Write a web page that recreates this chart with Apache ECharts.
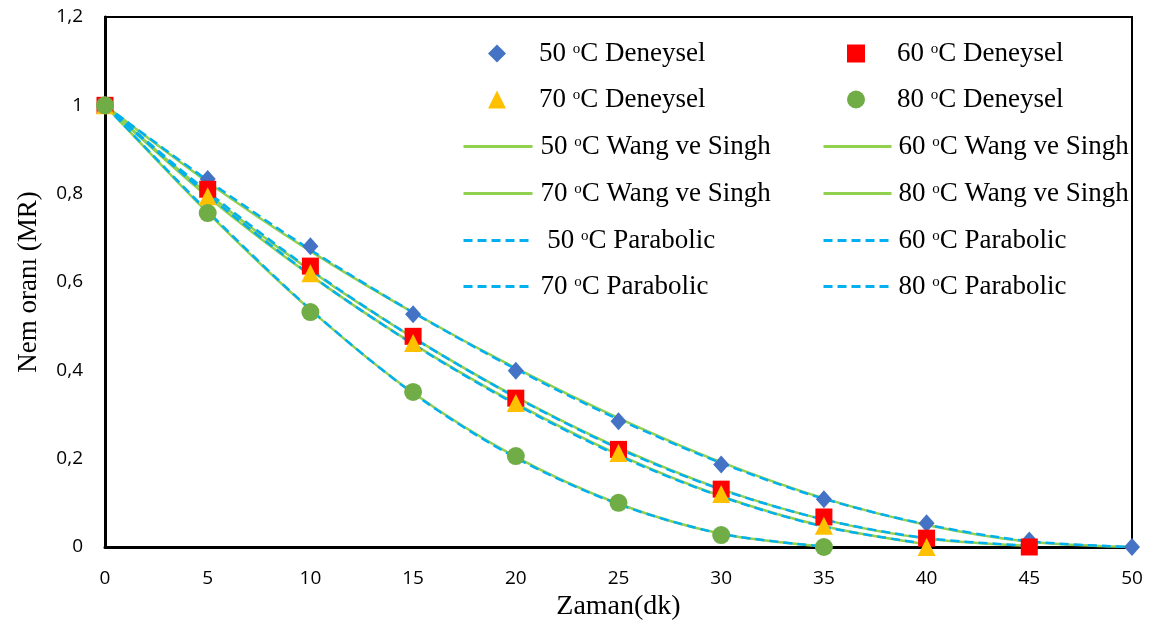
<!DOCTYPE html>
<html>
<head>
<meta charset="utf-8">
<script src="https://cdn.jsdelivr.net/npm/echarts@6/dist/echarts.min.js"></script>
<style>
html,body{margin:0;padding:0;background:#fff;}
#c{width:1158px;height:626px;}
</style>
</head>
<body>
<div id="c"></div>
<script>
// ---- data ----
const times = [0, 5, 10, 15, 20, 25, 30, 35, 40, 45, 50];
const yTickLabels = ['0', '0,2', '0,4', '0,6', '0,8', '1', '1,2'];

const exp50 = [1, 0.833, 0.681, 0.527, 0.399, 0.285, 0.187, 0.108, 0.054, 0.015, 0];
const exp60 = [1, 0.810, 0.636, 0.477, 0.337, 0.221, 0.131, 0.068, 0.020, 0];
const exp70 = [1, 0.794, 0.620, 0.462, 0.326, 0.213, 0.120, 0.048, 0];
const exp80 = [1, 0.756, 0.532, 0.351, 0.206, 0.100, 0.027, 0];

const wang50 = [1, 0.826, 0.670, 0.531, 0.405, 0.292, 0.192, 0.110, 0.050, 0.012, 0];
const wang60 = [1, 0.800, 0.626, 0.474, 0.340, 0.225, 0.131, 0.062, 0.019, 0.002];
const wang70 = [1, 0.793, 0.615, 0.460, 0.325, 0.209, 0.115, 0.047, 0.006];
const wang80 = [1, 0.757, 0.537, 0.349, 0.204, 0.098, 0.030, 0.001];

const para50 = [1, 0.830, 0.673, 0.531, 0.403, 0.289, 0.190, 0.109, 0.051, 0.013, 0];
const para60 = [1, 0.804, 0.628, 0.474, 0.339, 0.223, 0.130, 0.062, 0.020, 0.003];
const para70 = [1, 0.797, 0.616, 0.459, 0.323, 0.207, 0.114, 0.046, 0.007];
const para80 = [1, 0.760, 0.538, 0.348, 0.202, 0.097, 0.030, 0.001];

const names = {
  e50: '50 °C Deneysel', e60: '60 °C Deneysel', e70: '70 °C Deneysel', e80: '80 °C Deneysel',
  w50: '50 °C Wang ve Singh', w60: '60 °C Wang ve Singh', w70: '70 °C Wang ve Singh', w80: '80 °C Wang ve Singh',
  p50: ' 50 °C Parabolic', p60: '60 °C Parabolic', p70: '70 °C Parabolic', p80: '80 °C Parabolic'
};

// ---- build ----
function pairs(vals) { return vals.map((v, i) => [times[i], v]); }

const GREEN = '#92D050', BLUE = '#00B0F0';
const C50 = '#4472C4', C60 = '#FF0000', C70 = '#FFC000', C80 = '#70AD47';

function scatter(name, vals, symbol, size, color) {
  return { name, type: 'scatter', data: pairs(vals), symbol, symbolSize: size,
    itemStyle: { color, opacity: 1 }, z: 5, animation: false };
}
function line(name, vals, color, dashed, z) {
  return { name, type: 'line', data: pairs(vals), smooth: 0.3, symbol: 'none', showSymbol: false,
    lineStyle: { color, width: 2.5, type: dashed ? [9, 5] : 'solid' }, itemStyle: { color },
    z, animation: false };
}

const series = [
  line(names.w50, wang50, GREEN, false, 2),
  line(names.w60, wang60, GREEN, false, 2),
  line(names.w70, wang70, GREEN, false, 2),
  line(names.w80, wang80, GREEN, false, 2),
  line(names.p50, para50, BLUE, true, 3),
  line(names.p60, para60, BLUE, true, 3),
  line(names.p70, para70, BLUE, true, 3),
  line(names.p80, para80, BLUE, true, 3),
  scatter(names.e50, exp50, 'diamond', [16, 18], C50),
  scatter(names.e60, exp60, 'rect', 17, C60),
  scatter(names.e70, exp70, 'triangle', 18, C70),
  scatter(names.e80, exp80, 'circle', 18, C80)
];

function legendFmt(name) {
  const m = name.match(/^(\s*\d+) °C (.*)$/);
  if (!m) return name;
  return '{a|' + m[1] + ' }{s|o}{a|C ' + m[2] + '}';
}
function legendText(padLeft) {
  return {
    color: '#000', fontFamily: 'Liberation Serif', fontSize: 27, padding: [0, 0, 0, padLeft],
    rich: {
      a: { fontFamily: 'Liberation Serif', fontSize: 27, lineHeight: 30, color: '#000' },
      s: { fontFamily: 'Liberation Serif', fontSize: 15, lineHeight: 18, padding: [0, 0, 8, 0], color: '#000' }
    }
  };
}
// one legend per entry, positioned like the reference's 2-column block
function legendItem(name, col, row, icon, iconColor) {
  const rowCenters = [52, 98, 145, 192, 239, 285];
  const lineLeft = col === 0 ? 462 : 822;
  const lineW = col === 0 ? 69 : 68;
  const textX = col === 0 ? 539 : 897;
  const item = { name };
  let left, w;
  if (icon) {
    item.icon = icon;
    item.itemStyle = { color: iconColor, borderWidth: 0, opacity: 1 };
    w = 18;
    left = Math.round(lineLeft + lineW / 2 - w / 2);
  } else {
    item.itemStyle = { color: 'transparent', borderColor: 'transparent', borderWidth: 0, opacity: 0 };
    w = lineW;
    left = lineLeft;
  }
  return {
    orient: 'horizontal', left, top: rowCenters[row] - 12, itemWidth: w, itemHeight: 18,
    symbolKeepAspect: true, selectedMode: false, padding: 0,
    data: [item], formatter: legendFmt, textStyle: legendText(textX - (left + w + 5)),
    lineStyle: { width: 3 }
  };
}

const legends = [
  legendItem(names.e50, 0, 0, 'diamond', C50),
  legendItem(names.e60, 1, 0, 'rect', C60),
  legendItem(names.e70, 0, 1, 'triangle', C70),
  legendItem(names.e80, 1, 1, 'circle', C80),
  legendItem(names.w50, 0, 2),
  legendItem(names.w60, 1, 2),
  legendItem(names.w70, 0, 3),
  legendItem(names.w80, 1, 3),
  legendItem(names.p50, 0, 4),
  legendItem(names.p60, 1, 4),
  legendItem(names.p70, 0, 5),
  legendItem(names.p80, 1, 5)
];

const option = {
  animation: false,
  backgroundColor: '#fff',
  grid: { left: 105, right: 26, top: 17, bottom: 79, show: true, borderColor: '#000', borderWidth: 2, containLabel: false },
  legend: legends,
  xAxis: {
    type: 'value', min: 0, max: 50, interval: 5,
    name: 'Zaman(dk)', nameLocation: 'middle', nameGap: 44,
    nameTextStyle: { fontFamily: 'Liberation Serif', fontSize: 28, color: '#000' },
    axisLine: { show: true, onZero: false, lineStyle: { color: '#000', width: 3 } },
    axisTick: { show: false },
    splitLine: { show: false },
    axisLabel: { fontFamily: 'Open Sans', fontSize: 19, color: '#000', margin: 22 }
  },
  yAxis: {
    type: 'value', min: 0, max: 1.2, interval: 0.2,
    name: 'Nem oranı (MR)', nameLocation: 'middle', nameGap: 63,
    nameTextStyle: { fontFamily: 'Liberation Serif', fontSize: 27, color: '#000' },
    axisLine: { show: true, lineStyle: { color: '#000', width: 3 } },
    axisTick: { show: false },
    splitLine: { show: false },
    axisLabel: {
      fontFamily: 'Open Sans', fontSize: 19, color: '#000', margin: 22,
      formatter: function (v) { return yTickLabels[Math.round(v / 0.2)]; }
    }
  },
  series
};

const chart = echarts.init(document.getElementById('c'), null, { renderer: 'canvas' });
chart.setOption(option);
</script>
</body>
</html>
